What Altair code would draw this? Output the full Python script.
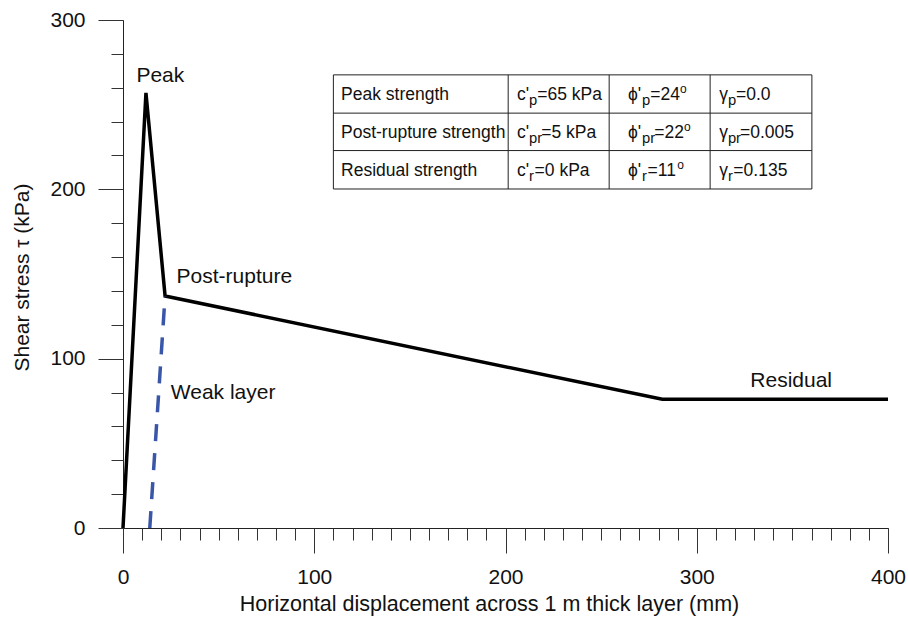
import altair as alt
import pandas as pd

FONT = "Liberation Sans, Arial, DejaVu Sans"

# Shear stress path across the layer: peak -> post-rupture -> residual
disp = [0, 12, 22, 282, 400]          # mm
stress = [0, 257, 137, 76, 76]        # kPa

# Weak layer loading path (dashed)
weak_disp = [14, 22]
weak_stress = [0, 137]

# Curve annotations
label_text = ["Peak", "Post-rupture", "Weak layer", "Residual"]
label_x = [7, 28, 25, 328]
label_y = [267, 148, 80, 87]

# Strength parameter table
row_names = ["Peak strength", "Post-rupture strength", "Residual strength"]
subs = ["p", "pr", "r"]
cohesion = ["65", "5", "0"]           # kPa
friction = ["24", "22", "11"]         # degrees
strain = ["0.0", "0.005", "0.135"]

# table grid, in data units (mm across, kPa down)
col_edges = [110, 201.4, 254.2, 307, 360.2]
row_edges = [267.6, 245, 222.9, 200.2]
col_text_x = [114, 206, 264, 311.7]

x_major = [0, 100, 200, 300, 400]
x_minor = list(range(0, 401, 10))
y_major = [0, 100, 200, 300]
y_minor = list(range(0, 301, 20))

W, H = 765, 508
X_DOM, Y_DOM = [0, 400], [0, 300]
PX_PER_MM = W / (X_DOM[1] - X_DOM[0])
PX_PER_KPA = H / (Y_DOM[1] - Y_DOM[0])

xs = alt.Scale(domain=X_DOM, nice=False, zero=False)
ys = alt.Scale(domain=Y_DOM, nice=False, zero=False)

main_df = pd.DataFrame({"disp": disp, "stress": stress, "order": range(len(disp))})
weak_df = pd.DataFrame({"disp": weak_disp, "stress": weak_stress})

AXIS_FS = 21
x_axis_major = alt.Axis(
    values=x_major, tickSize=25, tickColor="#333", tickWidth=1,
    domainColor="#222", domainWidth=1, grid=False,
    labelFont=FONT, labelFontSize=AXIS_FS, labelColor="#111", labelPadding=13,
    labelFlush=False,
    title="Horizontal displacement across 1 m thick layer (mm)",
    titleFont=FONT, titleFontSize=21.5, titleFontWeight="normal", titleColor="#111",
    titleX=366, titleY=76, titleBaseline="middle", titleAnchor="middle",
    orient="bottom",
)
y_axis_major = alt.Axis(
    values=y_major, tickSize=25, tickColor="#333", tickWidth=1,
    domainColor="#222", domainWidth=1, grid=False,
    labelFont=FONT, labelFontSize=AXIS_FS, labelColor="#111", labelPadding=13,
    labelFlush=False,
    title="Shear stress τ  (kPa)",
    titleFont=FONT, titleFontSize=AXIS_FS, titleFontWeight="normal", titleColor="#111",
    titleX=-101, titleY=257, titleBaseline="middle", titleAngle=270,
    orient="left",
)
x_axis_minor = alt.Axis(values=x_minor, tickSize=12, tickColor="#333", tickWidth=1,
                        labels=False, domain=False, grid=False, title=None, orient="bottom")
y_axis_minor = alt.Axis(values=y_minor, tickSize=12, tickColor="#333", tickWidth=1,
                        labels=False, domain=False, grid=False, title=None, orient="left")

main_line = alt.Chart(main_df).mark_line(
    color="black", strokeWidth=3.5, strokeJoin="miter", strokeCap="butt"
).encode(
    x=alt.X("disp:Q", scale=xs, axis=x_axis_major),
    y=alt.Y("stress:Q", scale=ys, axis=y_axis_major),
    order="order:Q",
)

weak_line = alt.Chart(weak_df).mark_line(
    color="#3a56a8", strokeWidth=3.5, strokeDash=[17, 12], strokeCap="butt"
).encode(
    x=alt.X("disp:Q", scale=xs, axis=x_axis_minor),
    y=alt.Y("stress:Q", scale=ys, axis=y_axis_minor),
)

labels_df = pd.DataFrame({"t": label_text, "x": label_x, "y": label_y})
labels = alt.Chart(labels_df).mark_text(
    font=FONT, fontSize=21, color="#111", align="left", baseline="middle"
).encode(
    x=alt.X("x:Q", scale=xs, axis=None),
    y=alt.Y("y:Q", scale=ys, axis=None),
    text="t:N",
)

# table background and frame
frame_df = pd.DataFrame({"x": [col_edges[0]], "x2": [col_edges[-1]],
                         "y": [row_edges[0]], "y2": [row_edges[-1]]})
frame = alt.Chart(frame_df).mark_rect(fill="white", stroke="#222", strokeWidth=1).encode(
    x=alt.X("x:Q", scale=xs, axis=None), x2="x2:Q",
    y=alt.Y("y:Q", scale=ys, axis=None), y2="y2:Q",
)

vlines_df = pd.DataFrame({"x": col_edges[1:-1], "y": row_edges[0], "y2": row_edges[-1]})
vlines = alt.Chart(vlines_df).mark_rule(color="#222", strokeWidth=1).encode(
    x=alt.X("x:Q", scale=xs, axis=None),
    y=alt.Y("y:Q", scale=ys, axis=None), y2="y2:Q",
)
hlines_df = pd.DataFrame({"y": row_edges[1:-1], "x": col_edges[0], "x2": col_edges[-1]})
hlines = alt.Chart(hlines_df).mark_rule(color="#222", strokeWidth=1).encode(
    y=alt.Y("y:Q", scale=ys, axis=None),
    x=alt.X("x:Q", scale=xs, axis=None), x2="x2:Q",
)

# Table cells are set as runs of normal / subscript / superscript text.
# Advance widths (em) of the Arial-metric glyphs used in the cells.
ADV = {"a": .556, "c": .5, "e": .556, "k": .5, "p": .556, "r": .333, "o": .556,
       "P": .667, " ": .278, "=": .584, ".": .278, "'": .191,
       "γ": .5, "ϕ": .62}
for d in "0123456789":
    ADV[d] = .556

CELL_FS, SUB_FS = 17.5, 12
SHIFT = {"n": 0, "sub": -6, "sup": 6}      # px, up is positive
SIZE = {"n": CELL_FS, "sub": SUB_FS, "sup": SUB_FS}
GAP = {"n": 0, "sub": 1.5, "sup": 0}       # px of extra space after a run


def text_width(s, fs):
    return sum(ADV.get(ch, .556) for ch in s) * fs


def cell_runs(r):
    s = subs[r]
    return [
        [(row_names[r], "n")],
        [("c'", "n"), (s, "sub"), ("=" + cohesion[r] + " kPa", "n")],
        [("ϕ'", "n"), (s, "sub"), ("=" + friction[r], "n"), ("o", "sup")],
        [("γ", "n"), (s, "sub"), ("=" + strain[r], "n")],
    ]


runs = []
for r in range(3):
    ymid = (row_edges[r] + row_edges[r + 1]) / 2 - 0.6
    for c, parts in enumerate(cell_runs(r)):
        x = col_text_x[c]
        for txt, kind in parts:
            runs.append({"t": txt, "kind": kind, "x": x,
                         "y": ymid + SHIFT[kind] / PX_PER_KPA})
            x += (text_width(txt, SIZE[kind]) + GAP[kind]) / PX_PER_MM
runs_df = pd.DataFrame(runs)

cell_text = alt.Chart(runs_df).mark_text(
    font=FONT, color="#111", align="left", baseline="middle"
).encode(
    x=alt.X("x:Q", scale=xs, axis=None),
    y=alt.Y("y:Q", scale=ys, axis=None),
    text="t:N",
    size=alt.Size("kind:N", scale=alt.Scale(domain=["n", "sub", "sup"],
                                            range=[CELL_FS, SUB_FS, SUB_FS]),
                  legend=None),
)

chart = alt.layer(
    main_line, weak_line, labels, frame, vlines, hlines, cell_text
).resolve_axis(x="independent", y="independent").properties(
    width=W, height=H,
    autosize=alt.AutoSizeParams(type="none"),
    padding={"left": 123, "top": 20, "right": 20, "bottom": 89},
).configure_view(stroke=None)

chart.save("out.html", embed_options={"renderer": "svg", "actions": False})
